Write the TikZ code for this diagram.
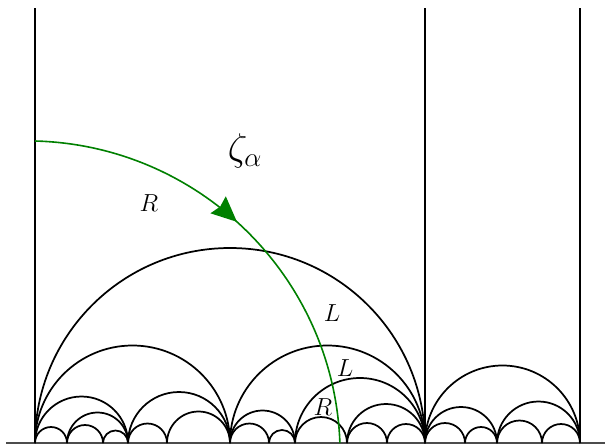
\RequirePackage{fix-cm}
\documentclass[tikz,border=0pt]{standalone}
\usetikzlibrary{arrows.meta,decorations.markings}
\definecolor{geo}{RGB}{0,128,0}
\begin{document}
\begin{tikzpicture}[x=0.75pt,y=0.75pt,
  farey/.style={line width=1.3pt,black},
  lbl/.style={inner sep=0pt,font=\fontsize{18.5}{22}\selectfont},
  geodesic/.style={line width=1.2pt,geo}]
\useasboundingbox (0,-1) rectangle (605,443);
% baseline
\draw[line width=0.8pt,black!70] (6,0) -- (605,0);
% vertical lines
\foreach \x in {35,425,580} \draw[farey] (\x,0) -- (\x,435);
% semicircles
\foreach \a/\b in {35/425,35/230,230/425,35/128,128/230,35/67,67/128,67/103,103/128,
  128/167,167/230,230/295,295/425,230/269,269/295,295/347,347/425,347/387,387/425,
  425/580,425/497,497/580,425/465,465/497,497/542,542/580}
  \draw[farey] (\a,0) arc[start angle=180,end angle=0,radius={(\b-\a)/2}];
% green geodesic
\draw[geodesic,postaction={decorate},
  decoration={markings,mark=at position 0.47 with {\arrow{Stealth[length=19pt,width=17pt,inset=2pt]}}}]
  (35,302) arc[start angle=88.5,end angle=2.05,radius=313.3];
% labels
\node[inner sep=0pt,font=\fontsize{29}{34}\selectfont] (zeta) at (245,292) {$\zeta_\alpha$};
\node[lbl] (r1) at (149,240) {$R$};
\node[lbl] (l1) at (332,130) {$L$};
\node[lbl] (l2) at (345,75) {$L$};
\node[lbl] (r2) at (323,36) {$R$};
\end{tikzpicture}
\end{document}
